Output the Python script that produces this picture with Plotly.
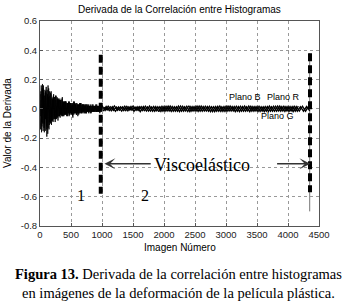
import numpy as np
import plotly.graph_objects as go

# ---------------- data ----------------
x_early_R = np.arange(0, 1000, 10)
x_early_G = np.arange(5, 1000, 10)
x_early_B = np.arange(10, 1000, 20)
x_late_R = np.arange(1000, 4351, 50)
x_late_G = np.arange(1017, 4351, 50)
x_late_B = np.arange(1033, 4351, 50)

plano_R_early = [
    0.06, -0.14, 0.16, -0.09, 0.17, -0.15, 0.11, -0.16, 0.13, -0.07,
    0.15, -0.19, 0.10, -0.13, 0.14, -0.11, 0.09, -0.10, 0.12, -0.08,
    0.07, -0.09, 0.10, -0.06, 0.08, -0.07, 0.09, -0.05, 0.07, -0.08,
    0.06, -0.05, 0.07, -0.04, 0.06, -0.04, 0.08, -0.05, 0.05, -0.04,
    0.05, -0.04, 0.05, -0.05, 0.04, -0.03, 0.05, -0.04, 0.04, -0.03,
    0.04, -0.04, 0.03, -0.06, 0.05, -0.03, 0.04, -0.03, 0.04, -0.03,
    0.03, -0.05, 0.03, -0.03, 0.04, -0.03, 0.04, -0.02, 0.03, -0.03,
    0.03, -0.03, 0.02, -0.03, 0.03, -0.02, 0.03, -0.02, 0.03, -0.02,
    0.02, -0.03, 0.02, -0.02, 0.03, -0.02, 0.02, -0.02, 0.02, -0.02,
    0.03, -0.02, 0.02, -0.02, 0.02, -0.02, 0.03, -0.02, 0.02, -0.02,
]
plano_G_early = [
    -0.05, 0.12, -0.16, 0.14, -0.10, 0.16, -0.13, 0.09, -0.15, 0.11,
    -0.12, 0.13, -0.17, 0.08, -0.14, 0.12, -0.09, 0.10, -0.11, 0.07,
    -0.08, 0.09, -0.07, 0.08, -0.09, 0.06, -0.07, 0.08, -0.06, 0.07,
    -0.05, 0.06, -0.06, 0.05, -0.04, 0.07, -0.05, 0.04, -0.05, 0.05,
    -0.04, 0.05, -0.03, 0.04, -0.05, 0.04, -0.03, 0.05, -0.04, 0.03,
    -0.03, 0.04, -0.05, 0.03, -0.04, 0.05, -0.03, 0.03, -0.04, 0.04,
    -0.03, 0.03, -0.04, 0.03, -0.02, 0.04, -0.03, 0.03, -0.02, 0.03,
    -0.02, 0.03, -0.03, 0.02, -0.03, 0.03, -0.02, 0.02, -0.03, 0.02,
    -0.02, 0.02, -0.03, 0.02, -0.02, 0.03, -0.02, 0.02, -0.02, 0.02,
    -0.02, 0.03, -0.02, 0.02, -0.02, 0.02, -0.03, 0.02, -0.02, 0.02,
]
plano_B_early = [
    0.10, -0.12, 0.14, -0.10, 0.12, -0.14, 0.16, -0.09, 0.11, -0.08,
    0.08, -0.07, 0.09, -0.06, 0.07, -0.05, 0.06, -0.05, 0.05, -0.04,
    0.05, -0.04, 0.04, -0.05, 0.04, -0.03, 0.04, -0.03, 0.03, -0.04,
    0.03, -0.03, 0.04, -0.03, 0.03, -0.02, 0.03, -0.03, 0.02, -0.02,
    0.03, -0.02, 0.02, -0.02, 0.02, -0.02, 0.02, -0.02, 0.02, -0.02,
]
plano_R_late = [
    0.022, -0.012, 0.018, -0.014, 0.020, -0.010, 0.015, -0.012, 0.017, -0.009,
    0.019, -0.011, 0.015, -0.013, 0.018, -0.015, 0.013, -0.017, 0.015, -0.018,
    0.017, -0.015, 0.019, -0.017, 0.015, -0.019, 0.018, -0.015, 0.021, -0.017,
    0.016, -0.018, 0.019, -0.015, 0.017, -0.019, 0.015, -0.016, 0.020, -0.017,
    0.018, -0.015, 0.017, -0.019, 0.016, -0.017, 0.019, -0.015, 0.018, -0.016,
    0.017, -0.018, 0.015, -0.017, 0.019, -0.016, 0.018, -0.015, 0.017, -0.018,
    0.016, -0.015, 0.018, -0.017, 0.015, -0.016, 0.017, -0.013,
]
plano_G_late = [
    -0.015, 0.017, -0.013, 0.015, -0.017, 0.013, -0.015, 0.018, -0.013, 0.016,
    -0.017, 0.015, -0.019, 0.017, -0.015, 0.019, -0.017, 0.016, -0.020, 0.018,
    -0.016, 0.019, -0.018, 0.015, -0.017, 0.020, -0.016, 0.018, -0.019, 0.017,
    -0.015, 0.019, -0.017, 0.018, -0.016, 0.015, -0.019, 0.017, -0.018, 0.016,
    -0.017, 0.019, -0.015, 0.018, -0.019, 0.016, -0.017, 0.019, -0.016, 0.017,
    -0.018, 0.015, -0.019, 0.017, -0.016, 0.018, -0.017, 0.019, -0.015, 0.016,
    -0.018, 0.017, -0.016, 0.019,
]
plano_B_late = [
    0.011, -0.009, 0.015, -0.011, 0.013, -0.010, 0.014, -0.012, 0.015, -0.009,
    0.013, -0.011, 0.016, -0.013, 0.014, -0.015, 0.017, -0.014, 0.015, -0.016,
    0.018, -0.015, 0.016, -0.017, 0.019, -0.016, 0.015, -0.018, 0.017, -0.015,
    0.019, -0.017, 0.016, -0.015, 0.018, -0.019, 0.017, -0.016, 0.015, -0.018,
    0.019, -0.015, 0.016, -0.017, 0.018, -0.016, 0.015, -0.019, 0.017, -0.015,
    0.018, -0.017, 0.016, -0.018, 0.015, -0.017, 0.019, -0.016, 0.018, -0.015,
    0.017, -0.019, 0.016, -0.015, 0.018, -0.016, 0.017,
]

x_ticks = [0, 500, 1000, 1500, 2000, 2500, 3000, 3500, 4000, 4500]
y_ticks = [-0.8, -0.6, -0.4, -0.2, 0, 0.2, 0.4, 0.6]
y_tick_text = ["-0.8", "-0.6", "-0.4", "-0.2", "0", "0.2", "0.4", "0.6"]
boundaries = [980, 4355]          # phase boundary image numbers
boundary_top = [0.37, 0.38]
boundary_bottom = [-0.58, -0.57]
right_thin_bottom = -0.70
arrow_y = -0.375
phase_labels = ["1", "2"]
phase_label_x = [660, 1700]
phase_label_y = -0.59
plano_labels = ["Plano B", "Plano R", "Plano G"]
plano_label_x = [3300, 3930, 3830]
plano_label_y = [0.078, 0.078, -0.052]

NARROW = "Liberation Sans Narrow, Arial Narrow, Liberation Sans, Arial"
SERIF = "Liberation Serif, Times New Roman, serif"

fig = go.Figure()
for name, xs, ys, w in [
    ("Plano R", x_early_R, plano_R_early, 0.8), ("Plano G", x_early_G, plano_G_early, 0.8),
    ("Plano B", x_early_B, plano_B_early, 0.8), ("Plano R", x_late_R, plano_R_late, 1.3),
    ("Plano G", x_late_G, plano_G_late, 1.3), ("Plano B", x_late_B, plano_B_late, 1.3),
]:
    n = min(len(xs), len(ys))
    fig.add_trace(go.Scatter(x=xs[:n], y=ys[:n], mode="lines", name=name,
                             line=dict(color="black", width=w), showlegend=False,
                             hoverinfo="skip"))

# thin line behind the right boundary
fig.add_shape(type="line", x0=boundaries[1] - 5, x1=boundaries[1] - 5,
              y0=boundary_top[1], y1=right_thin_bottom,
              line=dict(color="#777", width=1), layer="below")
for bx, top, bot in zip(boundaries, boundary_top, boundary_bottom):
    fig.add_shape(type="line", x0=bx, x1=bx, y0=top, y1=bot,
                  line=dict(color="black", width=4, dash="8px,4px"))

# arrows
fig.add_annotation(x=1040, y=arrow_y, ax=1810, ay=arrow_y, axref="x", ayref="y",
                   xref="x", yref="y", text="", showarrow=True, arrowhead=3,
                   arrowsize=1.4, arrowwidth=1.3, arrowcolor="#333")
fig.add_annotation(x=4360, y=arrow_y, ax=3800, ay=arrow_y, axref="x", ayref="y",
                   xref="x", yref="y", text="", showarrow=True, arrowhead=3,
                   arrowsize=1.4, arrowwidth=1.3, arrowcolor="#333")
fig.add_annotation(x=2620, y=arrow_y - 0.01, text="Viscoelástico", showarrow=False,
                   font=dict(family=SERIF, size=18, color="black"))
for t, lx in zip(phase_labels, phase_label_x):
    fig.add_annotation(x=lx, y=phase_label_y, text=t, showarrow=False,
                       font=dict(family=SERIF, size=16, color="black"))
for t, lx, ly in zip(plano_labels, plano_label_x, plano_label_y):
    fig.add_annotation(x=lx, y=ly, text=t, showarrow=False,
                       font=dict(family=NARROW, size=9, color="black"))

# title, axis titles, caption
fig.add_annotation(xref="paper", yref="paper", x=0.5, y=1, yanchor="bottom", yshift=4,
                   text="Derivada de la Correlación entre Histogramas", showarrow=False,
                   font=dict(family=NARROW, size=10, color="black"))
fig.add_annotation(xref="paper", yref="paper", x=0.5, y=0, yanchor="top", yshift=-14,
                   text="Imagen Número", showarrow=False,
                   font=dict(family=NARROW, size=10, color="black"))
fig.add_annotation(xref="paper", yref="paper", x=0, y=0.5, xanchor="right", xshift=-25,
                   text="Valor de la Derivada", showarrow=False, textangle=-90,
                   font=dict(family=NARROW, size=10, color="black"))
fig.add_annotation(xref="paper", yref="paper", x=0.497, y=0, yanchor="top", yshift=-38,
                   text="<b>Figura 13.</b> Derivada de la correlación entre histogramas<br>"
                        "en imágenes de la deformación de la película plástica.",
                   showarrow=False, align="center",
                   font=dict(family=SERIF, size=14.5, color="black"))

axis_common = dict(showline=True, mirror=True, linecolor="#555", linewidth=1,
                   showgrid=True, gridcolor="#999", griddash="dot", gridwidth=1,
                   zeroline=False, ticks="inside", ticklen=3, tickcolor="#555",
                   automargin=False,
                   tickfont=dict(family=NARROW, size=9.5, color="#222"))
fig.update_xaxes(range=[0, 4500], tickvals=x_ticks, ticktext=[str(v) for v in x_ticks],
                 **axis_common)
fig.update_yaxes(range=[-0.8, 0.6], tickvals=y_ticks, ticktext=y_tick_text,
                 **axis_common)
fig.update_layout(width=357, height=308, autosize=False, hovermode=False,
                  margin=dict(l=40, r=38, t=21, b=82, autoexpand=False),
                  plot_bgcolor="white", paper_bgcolor="white", showlegend=False)

post = ("document.body.style.margin='0';document.body.style.padding='0';"
        "var gd=document.getElementById('{plot_id}');"
        "Plotly.relayout(gd,{width:357,height:308});")
fig.write_html("out.html", post_script=post, config={"displayModeBar": False})
